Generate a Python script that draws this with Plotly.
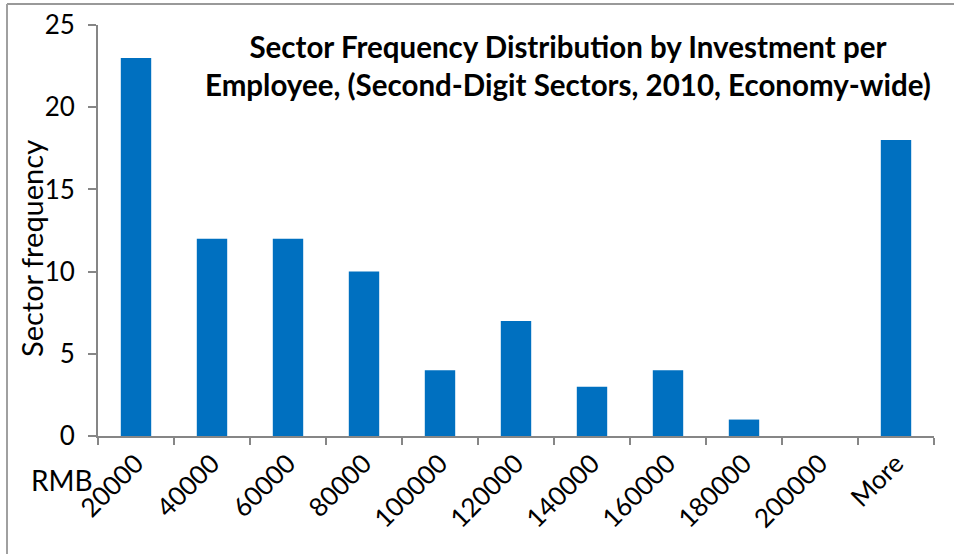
import plotly.graph_objects as go

categories = ["20000", "40000", "60000", "80000", "100000", "120000",
              "140000", "160000", "180000", "200000", "More"]
frequency = [23, 12, 12, 10, 4, 7, 3, 4, 1, 0, 18]
y_ticks = [0, 5, 10, 15, 20, 25]

FONT = "Lato, 'Open Sans', sans-serif"
AXIS = "#868686"

L, T, B = 98, 25, 118
PW, PH = 954 - L - 20, 554 - T - B  # 836 x 411


def px(x):
    return (x - L) / PW


def py(y):
    return (554 - B - y) / PH


fig = go.Figure(go.Bar(x=categories, y=frequency, marker=dict(color="#0070C0", line=dict(width=0))))

fig.update_layout(
    width=954, height=554,
    margin=dict(l=L, r=20, t=T, b=B),
    paper_bgcolor="white", plot_bgcolor="white",
    bargap=0.6,
    showlegend=False,
    font=dict(family=FONT, color="black"),
    xaxis=dict(
        type="category", showline=True, linecolor=AXIS, linewidth=2,
        ticks="outside", tickson="boundaries", ticklen=7, tickcolor=AXIS, tickwidth=2,
        tickangle=-45, tickfont=dict(size=26, family=FONT), showgrid=False,
        automargin=False,
    ),
    yaxis=dict(
        range=[0, 25], tickvals=y_ticks, showline=True, linecolor=AXIS, linewidth=2,
        ticks="outside", ticklen=8, tickcolor=AXIS, tickwidth=2, ticklabelstandoff=8,
        tickfont=dict(size=26, family=FONT), showgrid=False, zeroline=False,
        automargin=False,
    ),
    annotations=[
        dict(text="<b>Sector Frequency Distribution by Investment per<br>Employee, (Second-Digit Sectors, 2010, Economy-wide)</b>",
             xref="paper", yref="paper", x=px(568), y=py(65),
             xanchor="center", yanchor="middle", showarrow=False,
             font=dict(size=29.5, family=FONT), align="center"),
        dict(text="Sector frequency", xref="paper", yref="paper",
             x=px(31), y=py(249), xanchor="center", yanchor="middle",
             textangle=-90, showarrow=False, font=dict(size=29, family=FONT)),
        dict(text="RMB", xref="paper", yref="paper",
             x=px(62), y=py(480), xanchor="center", yanchor="middle",
             showarrow=False, font=dict(size=28, family=FONT)),
    ],
    shapes=[
        dict(type="line", xref="x domain", yref="y domain", x0=px(7), x1=px(954),
             y0=py(4), y1=py(4), line=dict(color="#999999", width=2)),
        dict(type="line", xref="x domain", yref="y domain", x0=px(7), x1=px(7),
             y0=py(4), y1=py(554), line=dict(color="#A0A0A0", width=2)),
    ],
)

fig.write_html("out.html", config={"displayModeBar": False},
               post_script="document.body.style.margin='0px';")
